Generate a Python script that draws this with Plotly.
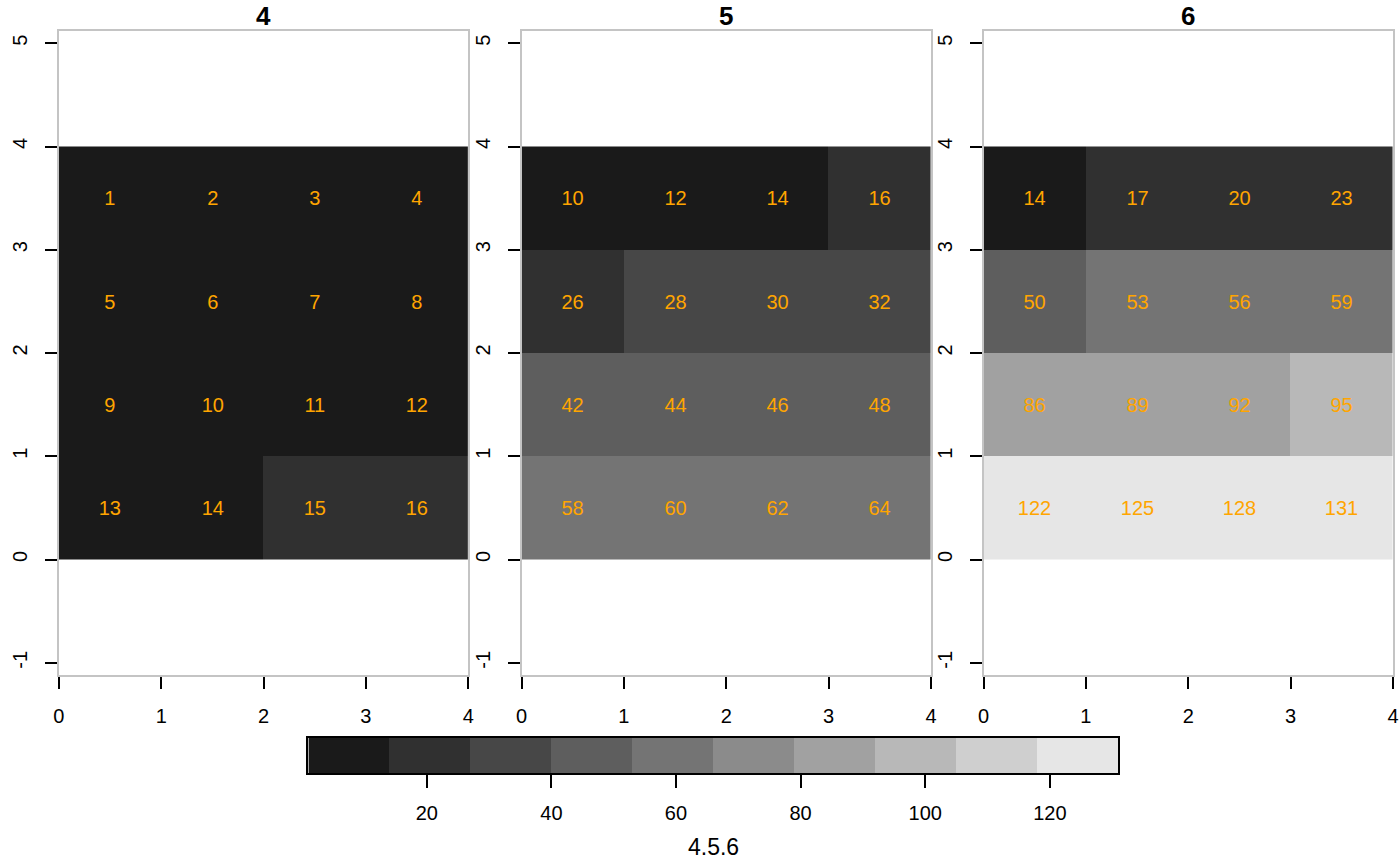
import plotly.graph_objects as go

# ---------------- data ----------------
PANELS = ["4", "5", "6"]
X_CENTERS = [0.5, 1.5, 2.5, 3.5]
Y_CENTERS = [3.5, 2.5, 1.5, 0.5]
VALUES_4 = [[1, 2, 3, 4], [5, 6, 7, 8], [9, 10, 11, 12], [13, 14, 15, 16]]
VALUES_5 = [[10, 12, 14, 16], [26, 28, 30, 32], [42, 44, 46, 48], [58, 60, 62, 64]]
VALUES_6 = [[14, 17, 20, 23], [50, 53, 56, 59], [86, 89, 92, 95], [122, 125, 128, 131]]
BREAKS = [1, 14.01, 27, 40, 52.99, 66, 79, 92.01, 105, 118, 131]
GREYS = ["#1A1A1A", "#303030", "#474747", "#5E5E5E", "#747474",
         "#8B8B8B", "#A1A1A1", "#B8B8B8", "#CFCFCF", "#E6E6E6"]
X_TICKS = [0, 1, 2, 3, 4]
Y_TICKS = [-1, 0, 1, 2, 3, 4, 5]
Y_TICK_TEXT = ["-1", "0", "1", "2", "3", "4", "5"]
CBAR_TICKS = [20, 40, 60, 80, 100, 120]
LEGEND_TITLE = "4.5.6"

W, H = 1400, 865
FONT = "Liberation Sans, Arial, Helvetica, sans-serif"

lo, hi = BREAKS[0], BREAKS[-1]
colorscale = []
for i, c in enumerate(GREYS):
    a = (BREAKS[i] - lo) / (hi - lo)
    b = (BREAKS[i + 1] - lo) / (hi - lo)
    colorscale += [[a, c], [b, c]]

fig = go.Figure()

panel_vals = [VALUES_4, VALUES_5, VALUES_6]
for k, vals in enumerate(panel_vals):
    sfx = "" if k == 0 else str(k + 1)
    fig.add_trace(go.Heatmap(
        x=X_CENTERS, y=Y_CENTERS, z=vals,
        coloraxis="coloraxis",
        texttemplate="%{z}",
        textfont=dict(color="#FFA500", size=20, family=FONT),
        hoverinfo="skip",
        xaxis="x" + sfx, yaxis="y" + sfx,
    ))

# colour key strip drawn on its own axis
mids = [(BREAKS[i] + BREAKS[i + 1]) / 2 for i in range(len(GREYS))]
fig.add_trace(go.Heatmap(
    x=BREAKS, y=[0, 1], z=[mids], coloraxis="coloraxis",
    hoverinfo="skip", xaxis="x4", yaxis="y4",
))

panel_px = [(53.3, 466.3), (520.0, 933.0), (986.0, 1399.0)]
top_px, bot_px = 30.7, 675.3
ydom = [1 - bot_px / H, 1 - top_px / H]
yspan = (bot_px - top_px) / ((panel_px[0][1] - panel_px[0][0]) / 4.0)
ymid = 2.0
yrange = [ymid - yspan / 2, ymid + yspan / 2]

layout = dict(
    width=W, height=H,
    margin=dict(l=0, r=0, t=0, b=0),
    paper_bgcolor="white", plot_bgcolor="white",
    font=dict(family=FONT, color="black", size=20),
    showlegend=False,
    coloraxis=dict(colorscale=colorscale, cmin=lo, cmax=hi, showscale=False),
)

frame = dict(showline=True, mirror=True, linecolor="#C4C4C4", linewidth=2,
             showgrid=False, zeroline=False, ticks="outside", ticklen=12,
             tickwidth=1.5, tickcolor="black", tickfont=dict(size=20))

annotations = []
for k, (l, r) in enumerate(panel_px):
    sfx = "" if k == 0 else str(k + 1)
    layout["xaxis" + sfx] = dict(frame, domain=[l / W, r / W], range=[0, 4],
                                 tickvals=X_TICKS, anchor="y" + sfx,
                                 ticklabelstandoff=10)
    layout["yaxis" + sfx] = dict(frame, domain=ydom, range=yrange,
                                 tickvals=Y_TICKS, ticktext=Y_TICK_TEXT,
                                 tickangle=-90,
                                 anchor="x" + sfx, ticklabelstandoff=10)
    annotations.append(dict(
        text="<b>%s</b>" % PANELS[k], x=(l + r) / 2 / W, y=1 - 16.3 / H,
        xref="paper", yref="paper", xanchor="center", yanchor="middle",
        showarrow=False, font=dict(size=26, color="black", family=FONT)))

cb_l, cb_r, cb_t, cb_b = 305.0, 1122.0, 737.5, 773.0
layout["xaxis4"] = dict(domain=[cb_l / W, cb_r / W], range=[lo, hi],
                        tickvals=CBAR_TICKS, ticks="outside", ticklen=13,
                        tickwidth=1.5, tickcolor="black",
                        showline=True, mirror=True, linecolor="black",
                        linewidth=1.5, showgrid=False, zeroline=False,
                        anchor="y4", ticklabelstandoff=8,
                        tickfont=dict(size=20))
layout["yaxis4"] = dict(domain=[1 - cb_b / H, 1 - cb_t / H], range=[0, 1],
                        showticklabels=False, ticks="", showline=True,
                        mirror=True, linecolor="black", linewidth=1.5,
                        showgrid=False, zeroline=False, anchor="x4")

annotations.append(dict(
    text=LEGEND_TITLE, x=(cb_l + cb_r) / 2 / W, y=1 - 847 / H,
    xref="paper", yref="paper", xanchor="center", yanchor="middle",
    showarrow=False, font=dict(size=23, color="black", family=FONT)))
layout["annotations"] = annotations

fig.update_layout(layout)
fig.write_html("out.html")
